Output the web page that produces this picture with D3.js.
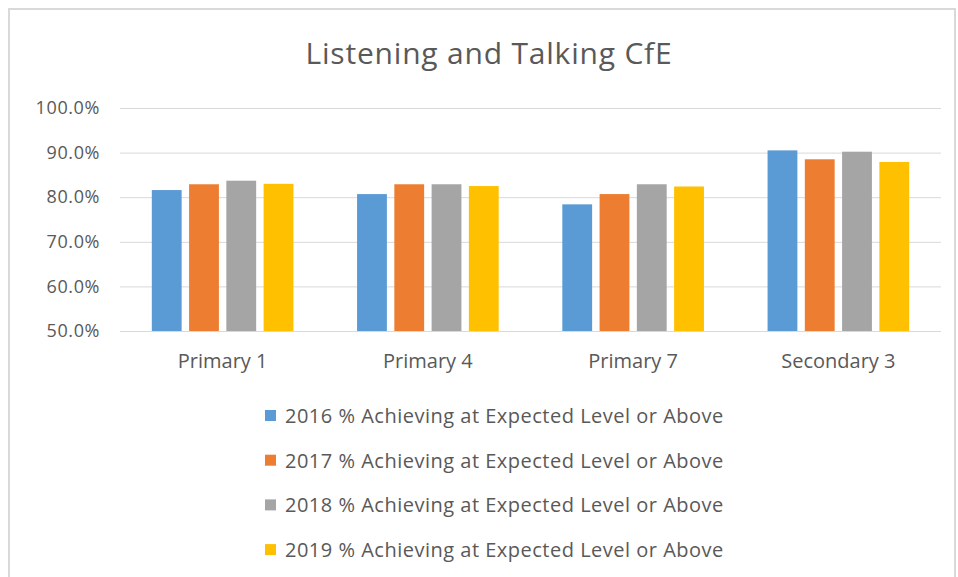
<!DOCTYPE html>
<html>
<head>
<meta charset="utf-8">
<script src="https://cdn.jsdelivr.net/npm/d3@7"></script>
<style>
  body { margin: 0; background: #fff; }
  svg { display: block; font-family: "Open Sans", sans-serif; }
</style>
</head>
<body>
<svg id="chart"></svg>
<script>
const title = "Listening and Talking CfE";
const categories = ["Primary 1", "Primary 4", "Primary 7", "Secondary 3"];
const seriesNames = [
  "2016 % Achieving at Expected Level or Above",
  "2017 % Achieving at Expected Level or Above",
  "2018 % Achieving at Expected Level or Above",
  "2019 % Achieving at Expected Level or Above"
];
const values2016 = [81.6, 80.7, 78.4, 90.5];
const values2017 = [82.9, 82.9, 80.7, 88.5];
const values2018 = [83.7, 82.9, 82.9, 90.2];
const values2019 = [83.0, 82.5, 82.4, 87.9];
const yTicks = [50, 60, 70, 80, 90, 100];
const colors = ["#5B9BD5", "#ED7D31", "#A5A5A5", "#FFC000"];

const allSeries = [values2016, values2017, values2018, values2019];

const width = 958, height = 577;
const margin = { top: 108, right: 17, bottom: 246, left: 120 };
const textColor = "#595959";
const font = '"Open Sans", sans-serif';

const svg = d3.select("#chart")
    .attr("width", width)
    .attr("height", height)
    .attr("viewBox", [0, 0, width, height]);

// chart frame
svg.append("rect")
    .attr("x", 9).attr("y", 9)
    .attr("width", 946).attr("height", 580)
    .attr("fill", "#fff")
    .attr("stroke", "#d9d9d9")
    .attr("stroke-width", 2);

const x0 = d3.scaleBand()
    .domain(categories)
    .range([margin.left, width - margin.right])
    .paddingInner(0.31)
    .paddingOuter(0.155);

const x1 = d3.scaleBand()
    .domain(d3.range(seriesNames.length))
    .range([0, x0.bandwidth()])
    .paddingInner(0.2)
    .paddingOuter(0);

const y = d3.scaleLinear()
    .domain([50, 100])
    .range([height - margin.bottom, margin.top]);

// gridlines + y labels
svg.append("g")
    .attr("transform", `translate(${margin.left},0)`)
    .call(d3.axisLeft(y).tickValues(yTicks).tickFormat(d => d.toFixed(1) + "%").tickSize(0).tickPadding(20))
    .attr("font-family", font)
    .call(g => g.select(".domain").remove())
    .call(g => g.selectAll(".tick line").clone()
        .attr("x2", width - margin.right - margin.left)
        .attr("stroke", "#d9d9d9").attr("stroke-width", 1))
    .call(g => g.selectAll(".tick text")
        .attr("fill", textColor)
        .style("font-size", "18px")
        .style("letter-spacing", "0.6px"));

// bars
const groups = svg.append("g")
    .selectAll("g")
    .data(categories)
    .join("g")
    .attr("transform", d => `translate(${x0(d)},0)`);

groups.selectAll("rect")
    .data((d, i) => allSeries.map((s, k) => ({ k, v: s[i] })))
    .join("rect")
    .attr("x", d => x1(d.k))
    .attr("width", x1.bandwidth())
    .attr("y", d => y(d.v))
    .attr("height", d => y(50) - y(d.v))
    .attr("fill", d => colors[d.k]);

// x axis labels
svg.append("g")
    .attr("transform", `translate(0,${height - margin.bottom})`)
    .call(d3.axisBottom(x0).tickSize(0).tickPadding(23))
    .attr("font-family", font)
    .call(g => g.select(".domain").remove())
    .call(g => g.selectAll(".tick text")
        .attr("fill", textColor)
        .style("font-size", "20px"));

// title
svg.append("text")
    .attr("x", 489)
    .attr("y", 64)
    .attr("text-anchor", "middle")
    .attr("fill", textColor)
    .style("font-size", "30px")
    .style("letter-spacing", "0.8px")
    .text(title);

// legend
const legend = svg.append("g")
    .selectAll("g")
    .data(seriesNames)
    .join("g")
    .attr("transform", (d, i) => `translate(265,${416 + i * 44.7})`);

legend.append("rect")
    .attr("y", -6)
    .attr("width", 11).attr("height", 11)
    .attr("fill", (d, i) => colors[i]);

legend.append("text")
    .attr("x", 20)
    .attr("dy", "0.35em")
    .attr("fill", textColor)
    .style("font-size", "20px")
    .style("letter-spacing", "0.5px")
    .text(d => d);
</script>
</body>
</html>
